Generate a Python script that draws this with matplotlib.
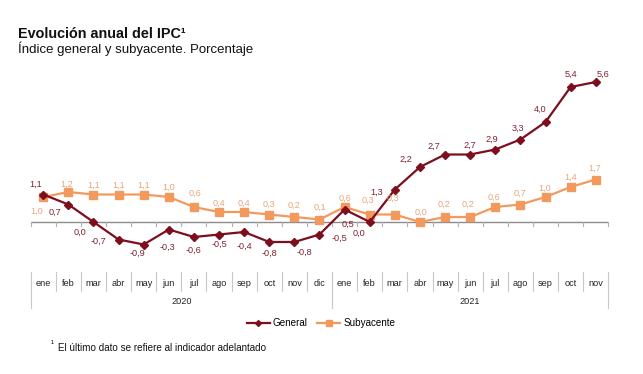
import matplotlib
matplotlib.use("Agg")
import matplotlib.pyplot as plt
from matplotlib.transforms import blended_transform_factory
from matplotlib.lines import Line2D

plt.rcParams['font.family'] = ['Liberation Sans', 'DejaVu Sans']

months = ["ene", "feb", "mar", "abr", "may", "jun", "jul", "ago", "sep", "oct", "nov", "dic",
          "ene", "feb", "mar", "abr", "may", "jun", "jul", "ago", "sep", "oct", "nov"]
years = ["2020", "2021"]
year_counts = [12, 11]
general = [1.1, 0.7, 0.0, -0.7, -0.9, -0.3, -0.6, -0.5, -0.4, -0.8, -0.8, -0.5,
           0.5, 0.0, 1.3, 2.2, 2.7, 2.7, 2.9, 3.3, 4.0, 5.4, 5.6]
subyacente = [1.0, 1.2, 1.1, 1.1, 1.1, 1.0, 0.6, 0.4, 0.4, 0.3, 0.2, 0.1,
              0.6, 0.3, 0.3, 0.0, 0.2, 0.2, 0.6, 0.7, 1.0, 1.4, 1.7]

# label offsets in pixels (style only)
gen_off = [(-8, 10), (-13, -8), (-13, -10), (-20, -2), (-6, -9), (-1, -18), (0, -13), (0, -10),
           (0, -14), (0, -11), (10, -10), (20, -4), (3, -15), (-11, -11), (-18, -3), (-14, 8),
           (-11, 8), (0, 9), (-3, 10), (-2, 11), (-5, 13), (0, 13), (7, 8)]
sub_off = [(-7, -14), (-2, 8), (0, 9), (0, 9), (0, 9), (0, 10), (1, 14), (0, 9), (0, 9), (0, 10),
           (0, 12), (1, 12), (0, 9), (-2, 14), (-2, 16), (1, 10), (-1, 13), (-2, 13), (-1, 10),
           (0, 11), (-1, 9), (0, 10), (-1, 11)]

W, H = 643, 374
fig = plt.figure(figsize=(W / 100, H / 100), dpi=100)

def fx(px):
    return px / W

def fy(py):
    return 1 - py / H

ax_left, ax_right, ax_top, ax_bot = 30.7, 608.3, 60, 270
ax = fig.add_axes([fx(ax_left), fy(ax_bot), fx(ax_right - ax_left), (ax_bot - ax_top) / H])
ax.set_xlim(-0.5, len(months) - 0.5)
ax.set_ylim(-48 / 25, 162 / 25)
ax.axis("off")

c_gen = "#7E0E1E"
c_sub = "#F29A5E"
c_gen_lbl = "#7F2232"
c_sub_lbl = "#E6A67C"
lbl_size = 6.6

x = list(range(len(months)))
ax.axhline(0, color="#8C8C8C", lw=1.0, zorder=1)
bt = blended_transform_factory(ax.transData, fig.transFigure)
for k in range(len(months) + 1):
    ax.add_line(Line2D([k - 0.5, k - 0.5], [fy(222), fy(226)], transform=bt,
                       color="#B0B0B0", lw=0.8, clip_on=False))

ax.plot(x, subyacente, color=c_sub, lw=1.6, marker="s", ms=5.5, zorder=3)
ax.plot(x, general, color=c_gen, lw=1.6, marker="D", ms=4.2, zorder=4)

for i, v in enumerate(general):
    ax.annotate(f"{v:.1f}".replace(".", ","), (i, v), xytext=gen_off[i], textcoords="offset pixels",
                ha="center", va="center", fontsize=lbl_size, color=c_gen_lbl, zorder=5)
for i, v in enumerate(subyacente):
    ax.annotate(f"{v:.1f}".replace(".", ","), (i, v), xytext=sub_off[i], textcoords="offset pixels",
                ha="center", va="center", fontsize=lbl_size, color=c_sub_lbl, zorder=5)

# category axis
sep_col = "#C8C8C8"
year_bounds = [0]
for c in year_counts:
    year_bounds.append(year_bounds[-1] + c)
for k in range(len(months) + 1):
    bottom = 308 if k in year_bounds else 291
    ax.add_line(Line2D([k - 0.5, k - 0.5], [fy(272), fy(bottom)], transform=bt,
                       color=sep_col, lw=0.8, clip_on=False))
for i, m in enumerate(months):
    ax.text(i, fy(283), m, transform=bt, ha="center", va="center", fontsize=lbl_size, color="#222222")
for j, yv in enumerate(years):
    mid = (year_bounds[j] + year_bounds[j + 1]) / 2 - 0.5
    ax.text(mid, fy(301), yv, transform=bt, ha="center", va="center", fontsize=lbl_size, color="#222222")

# titles
fig.text(fx(18), fy(34), "Evolución anual del IPC¹", fontsize=10.4, fontweight="bold",
         ha="left", va="center", color="#111111")
fig.text(fx(18), fy(48.5), "Índice general y subyacente. Porcentaje", fontsize=9.5,
         ha="left", va="center", color="#111111")

# legend
handles = [Line2D([], [], color=c_gen, lw=1.6, marker="D", ms=3),
           Line2D([], [], color=c_sub, lw=1.6, marker="s", ms=4)]
fig.legend(handles, ["General", "Subyacente"], loc="center", bbox_to_anchor=(fx(321), fy(323)),
           ncol=2, frameon=False, fontsize=7.1, handlelength=2.3, handletextpad=0.3,
           columnspacing=1.0)

# footnote
fig.text(fx(51), fy(344), "¹", fontsize=6.5, ha="left", va="center", color="#111111")
fig.text(fx(58), fy(348), "El último dato se refiere al indicador adelantado", fontsize=7.1,
         ha="left", va="center", color="#111111")

fig.savefig("out.png", dpi=100)
